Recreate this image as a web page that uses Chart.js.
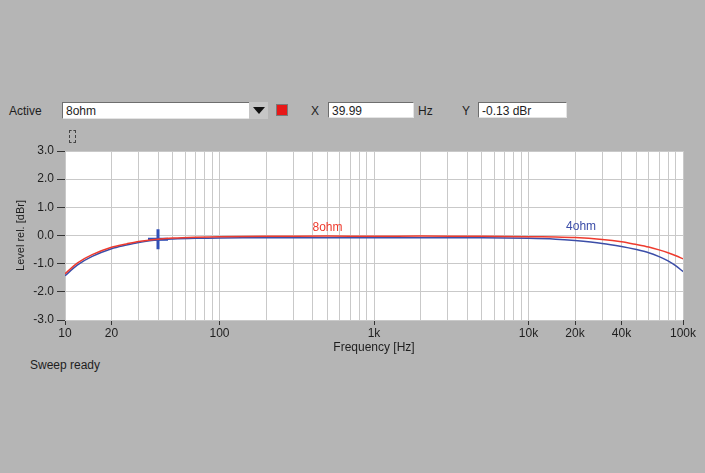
<!DOCTYPE html>
<html>
<head>
<meta charset="utf-8">
<script src="https://cdn.jsdelivr.net/npm/chart.js@4/dist/chart.umd.min.js"></script>
<style>
  html, body { margin: 0; padding: 0; }
  body {
    width: 705px; height: 473px; overflow: hidden; position: relative;
    background: #b5b5b5; font-family: "Liberation Sans", Arial, sans-serif; font-size: 12px; color: #1e1e1e;
  }
  #chart { position: absolute; left: 0; top: 0; }
  .lbl { position: absolute; }
  .box {
    position: absolute; background: #fff; height: 16px; line-height: 16px; padding-left: 3px;
    border-top: 1px solid #6e6e6e; border-left: 1px solid #6e6e6e;
    border-right: 1px solid #e4e4e4; border-bottom: 1px solid #e4e4e4; box-sizing: border-box;
  }
  .drop {
    position: absolute; left: 249px; top: 102px; width: 19px; height: 17px; background: #c6c6c6;
  }
  .drop:after {
    content: ""; position: absolute; left: 4px; top: 5px;
    border-left: 6px solid transparent; border-right: 6px solid transparent; border-top: 7px solid #111;
  }
  .swatch { position: absolute; left: 276px; top: 104px; width: 12px; height: 12px; background: #e81818; border: 1px solid #7a7a7a; box-sizing: border-box; }
  .icon { position: absolute; left: 69px; top: 130px; width: 5px; height: 11px; border: 1px dashed #444; }
</style>
</head>
<body>
<div class="lbl" style="left:9px;top:104px;">Active</div>
<div class="box" style="left:62px;top:102px;width:206px;height:17px;">8ohm</div>
<div class="drop"></div>
<div class="swatch"></div>
<div class="lbl" style="left:311px;top:104px;">X</div>
<div class="box" style="left:328px;top:102px;width:86px;">39.99</div>
<div class="lbl" style="left:418px;top:104px;">Hz</div>
<div class="lbl" style="left:462px;top:104px;">Y</div>
<div class="box" style="left:478px;top:102px;width:89px;">-0.13 dBr</div>
<div class="icon"></div>
<div class="lbl" style="left:30px;top:358px;">Sweep ready</div>
<canvas id="chart" width="705" height="473"></canvas>
<script>
// frequencies in Hz
const freqs = [10, 12, 15, 20, 25, 30, 40, 50, 70, 100, 200, 500, 1000, 2000, 5000,
  10000, 15000, 20000, 30000, 40000, 50000, 60000, 70000, 80000, 90000, 100000];
// level rel. in dBr
const ohm8 = [-1.36, -0.98, -0.68, -0.42, -0.3, -0.21, -0.13, -0.09, -0.06, -0.04, -0.03, -0.02, -0.03, -0.02, -0.03,
  -0.04, -0.05, -0.07, -0.14, -0.22, -0.32, -0.41, -0.51, -0.61, -0.72, -0.83];
const ohm4 = [-1.43, -1.05, -0.74, -0.47, -0.34, -0.25, -0.15, -0.12, -0.1, -0.09, -0.08, -0.08, -0.08, -0.08, -0.08,
  -0.1, -0.13, -0.18, -0.28, -0.39, -0.5, -0.61, -0.75, -0.9, -1.08, -1.28];
const cursor = { x: 39.99, y: -0.13 };
const xLabels = { 10: '10', 20: '20', 100: '100', 1000: '1k', 10000: '10k', 20000: '20k', 40000: '40k', 100000: '100k' };
const yTicks = [-3, -2, -1, 0, 1, 2, 3];

const RED = '#ee3b2e';
const BLUE = '#3c4ea8';

const plotBg = {
  id: 'plotBg',
  beforeDraw(chart) {
    const { ctx, chartArea: a } = chart;
    ctx.save();
    ctx.fillStyle = '#ffffff';
    ctx.fillRect(a.left, a.top, a.right - a.left, a.bottom - a.top);
    ctx.restore();
  },
};

// curve names drawn in the plot
const curveNames = {
  id: 'curveNames',
  afterDatasetsDraw(chart) {
    const { ctx, scales: { x, y } } = chart;
    ctx.save();
    ctx.font = '12px "Liberation Sans", Arial, sans-serif';
    ctx.textBaseline = 'bottom';
    ctx.fillStyle = RED;
    ctx.fillText('8ohm', x.getPixelForValue(400), y.getPixelForValue(0.05));
    ctx.fillStyle = BLUE;
    ctx.fillText('4ohm', x.getPixelForValue(17500), y.getPixelForValue(0.11));
    ctx.restore();
  },
};

const gridTicks = [];
for (let d = 10; d < 100000; d *= 10) {
  for (let m = 1; m < 10; m++) gridTicks.push(m * d);
}
gridTicks.push(100000);

new Chart(document.getElementById('chart'), {
  type: 'line',
  data: {
    datasets: [
      {
        label: '8ohm',
        data: freqs.map((f, i) => ({ x: f, y: ohm8[i] })),
        borderColor: RED, borderWidth: 1.5, pointRadius: 0, tension: 0.3,
      },
      {
        label: '4ohm',
        data: freqs.map((f, i) => ({ x: f, y: ohm4[i] })),
        borderColor: BLUE, borderWidth: 1.5, pointRadius: 0, tension: 0.3,
      },
      {
        label: 'cursor',
        data: [cursor],
        showLine: false, pointStyle: 'cross', pointRadius: 10, pointBorderWidth: 3,
        pointBorderColor: '#2f4fb8', pointBackgroundColor: '#2f4fb8',
      },
    ],
  },
  options: {
    responsive: false,
    animation: false,
    layout: { padding: { left: 0, top: 151, right: 22, bottom: 118 } },
    plugins: { legend: { display: false }, tooltip: { enabled: false } },
    scales: {
      x: {
        type: 'logarithmic', min: 10, max: 100000,
        afterBuildTicks: (s) => { s.ticks = gridTicks.map((v) => ({ value: v })); },
        afterFit: (s) => { s.height = 35; },
        grid: {
          color: '#c9c9c9', lineWidth: 1, tickLength: 5,
          tickColor: (c) => (c.tick && xLabels[c.tick.value] ? '#333' : 'rgba(0,0,0,0)'),
        },
        border: { display: false },
        ticks: {
          autoSkip: false, maxRotation: 0, padding: 1, color: '#1e1e1e',
          font: { family: '"Liberation Sans", Arial, sans-serif', size: 12 },
          callback: (v) => xLabels[v] || '',
        },
        title: {
          display: true, text: 'Frequency [Hz]', color: '#1e1e1e', padding: 0,
          font: { family: '"Liberation Sans", Arial, sans-serif', size: 12 },
        },
      },
      y: {
        min: -3, max: 3,
        afterBuildTicks: (s) => { s.ticks = yTicks.map((v) => ({ value: v })); },
        afterFit: (s) => { s.width = 65; },
        grid: { color: '#c9c9c9', tickColor: '#333', tickLength: 8 },
        border: { display: false },
        ticks: {
          padding: 3, color: '#1e1e1e',
          font: { family: '"Liberation Sans", Arial, sans-serif', size: 12 },
          callback: (v) => v.toFixed(1),
        },
        title: {
          display: true, text: 'Level rel. [dBr]', color: '#1e1e1e', padding: { top: 14, bottom: 0 },
          font: { family: '"Liberation Sans", Arial, sans-serif', size: 11 },
        },
      },
    },
  },
  plugins: [plotBg, curveNames],
});
</script>
</body>
</html>
